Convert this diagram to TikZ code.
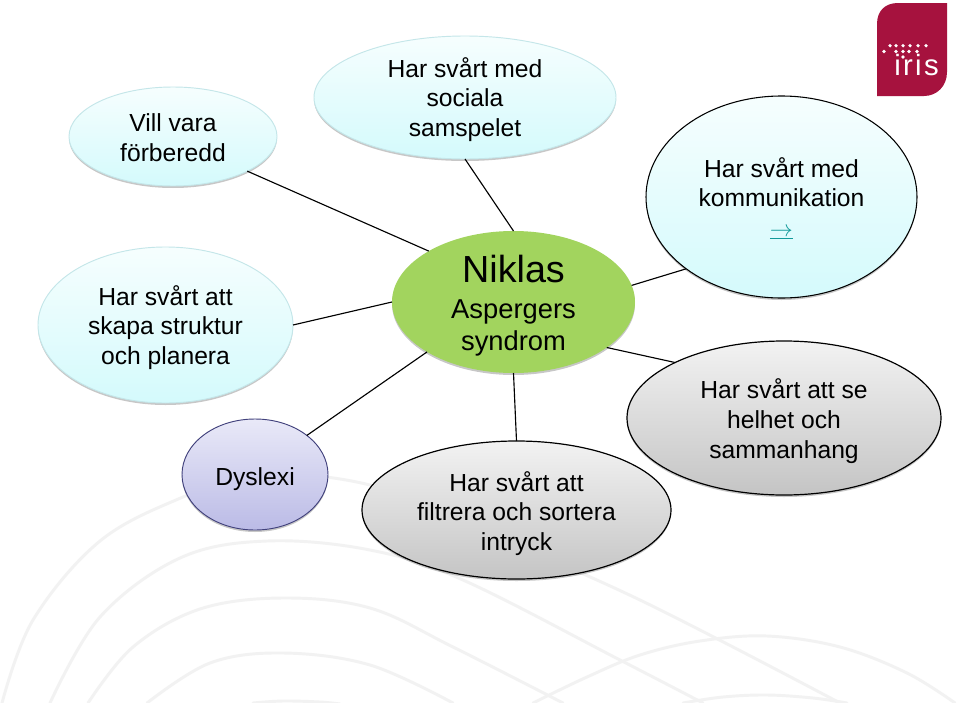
\documentclass[tikz,border=0pt]{standalone}
\usepackage{fontspec}
\setmainfont{Liberation Sans}
\newfontfamily\logofont[LetterSpace=8]{Liberation Sans}
\usetikzlibrary{shapes.geometric,shadows}
\definecolor{bgl}{HTML}{F2F2F2}
\definecolor{logored}{HTML}{A6123E}
\definecolor{linkteal}{HTML}{129A9A}
\definecolor{maingreen}{HTML}{A2D45E}
\definecolor{dysT}{HTML}{E9E9F8}
\definecolor{dysB}{HTML}{BBBBE6}
\definecolor{dysE}{HTML}{41417C}
\definecolor{cyanT}{HTML}{F6FEFE}
\definecolor{cyanB}{HTML}{D4FAFC}
\definecolor{cyanE}{HTML}{C4E6E9}
\newcommand{\firstline}[1]{\rule{0pt}{#1}}
\tikzset{
  x=0.75pt,y=-0.75pt,
  bgline/.style={draw=bgl,line width=2.2pt,line cap=round},
  conn/.style={draw=black,line width=0.85pt},
  softshadow/.style={drop shadow={shadow xshift=0pt,shadow yshift=-1.5pt,opacity=.22,fill=black}},
  oval/.style={ellipse,inner sep=-16pt,outer sep=0pt,align=center,text=black,softshadow,
    font=\fontsize{18.5}{22.2}\selectfont},
  cyanoval/.style={oval,top color=cyanT,bottom color=cyanB,draw=cyanE,line width=0.7pt},
  cyanblack/.style={oval,top color=cyanT,bottom color=cyanB,draw=black,line width=0.8pt},
  greyoval/.style={oval,top color=black!5,bottom color=black!23,draw=black,line width=0.9pt},
  blueoval/.style={oval,top color=dysT,bottom color=dysB,draw=dysE,line width=0.7pt},
  mainoval/.style={oval,fill=maingreen},
}
\begin{document}
\begin{tikzpicture}
\useasboundingbox (0,0) rectangle (960,703);
\fill[white] (0,0) rectangle (960,703);
% background swoosh lines
\draw[bgline] plot[smooth,tension=.6] coordinates {(2,703) (33,620) (100,541) (183,497) (255,474) (370,485) (480,530) (640,600) (840,703)};
\draw[bgline] plot[smooth,tension=.6] coordinates {(50,703) (100,617) (180,558) (267,541) (370,550) (463,580) (620,660) (703,703)};
\draw[bgline] plot[smooth,tension=.6] coordinates {(88,703) (133,647) (200,609) (283,598) (370,608) (453,647) (563,703)};
\draw[bgline] plot[smooth,tension=.6] coordinates {(147,703) (210,663) (283,653) (370,665) (453,703)};
\draw[bgline] plot[smooth,tension=.6] coordinates {(253,703) (283,701) (320,702) (340,704)};
\draw[bgline] plot[smooth,tension=.6] coordinates {(533,703) (587,677) (640,655) (700,641) (767,636) (840,647) (907,673) (955,703)};
\draw[bgline] plot[smooth,tension=.6] coordinates {(683,703) (723,697) (767,695) (813,698) (847,703)};
% logo
\fill[logored] (877,96) -- (877,24) .. controls (877,11) and (885,3) .. (898,3) -- (947,3) -- (947,72) .. controls (947,86) and (937,96) .. (924,96) -- cycle;
\foreach \px/\py in {890/45.7,896/45.7,903/45.7,910/45.7,918/45.7,926/45.7,884/51.5,896/51.5,903/51.5,909/51.5,917/51.5,903/57}
  \fill[white] (\px,\py) circle[radius=1.8];
\node[inner sep=0pt,anchor=base west,text=white,font=\logofont\fontsize{22}{24}\selectfont] (logotext) at (894,75) {iris};
% nodes
\node[mainoval,minimum width=182.25pt,minimum height=106.5pt] (niklas) at (513.5,302)
  {\firstline{26pt}{\fontsize{28.3}{31}\selectfont Niklas}\\[5pt]{\fontsize{20.5}{24}\selectfont Aspergers}\\[1.8pt]{\fontsize{20.5}{24}\selectfont syndrom}};
\node[cyanoval,minimum width=156pt,minimum height=74.25pt] (vill) at (173,136.5) {\firstline{15.5pt}Vill vara\\förberedd};
\node[cyanoval,minimum width=226.5pt,minimum height=92.25pt] (sociala) at (465,97.5) {\firstline{18pt}Har svårt med\\sociala\\samspelet};
\node[cyanoval,minimum width=191.25pt,minimum height=117pt] (skapa) at (165.5,325) {\firstline{18.5pt}Har svårt att\\skapa struktur\\och planera};
\node[blueoval,minimum width=109.5pt,minimum height=83.25pt] (dyslexi) at (255,474.5) {\firstline{20.5pt}Dyslexi};
\node[cyanblack,minimum width=203.25pt,minimum height=151.5pt] (komm) at (781.5,197) {\firstline{16.5pt}Har svårt med\\kommunikation\\{\color{linkteal}\underline{$\rightarrow$}}};
\node[greyoval,minimum width=235.5pt,minimum height=115.5pt] (helhet) at (784,418) {\firstline{19.5pt}Har svårt att se\\helhet och\\sammanhang};
\node[greyoval,minimum width=231.75pt,minimum height=103.5pt] (filtrera) at (516.5,510) {\firstline{20pt}Har svårt att\\filtrera och sortera\\intryck};
% connectors
\draw[conn] (vill.-25) -- (niklas.149.2);
\draw[conn] (sociala.-90) -- (niklas.90);
\draw[conn] (skapa.0) -- (niklas.180);
\draw[conn] (dyslexi.37.2) -- (niklas.-150.2);
\draw[conn] (filtrera.90) -- (niklas.-90);
\draw[conn] (komm.-143.3) -- (niklas.8.5);
\draw[conn] (helhet.153.8) -- (niklas.-26.2);
\end{tikzpicture}
\end{document}
